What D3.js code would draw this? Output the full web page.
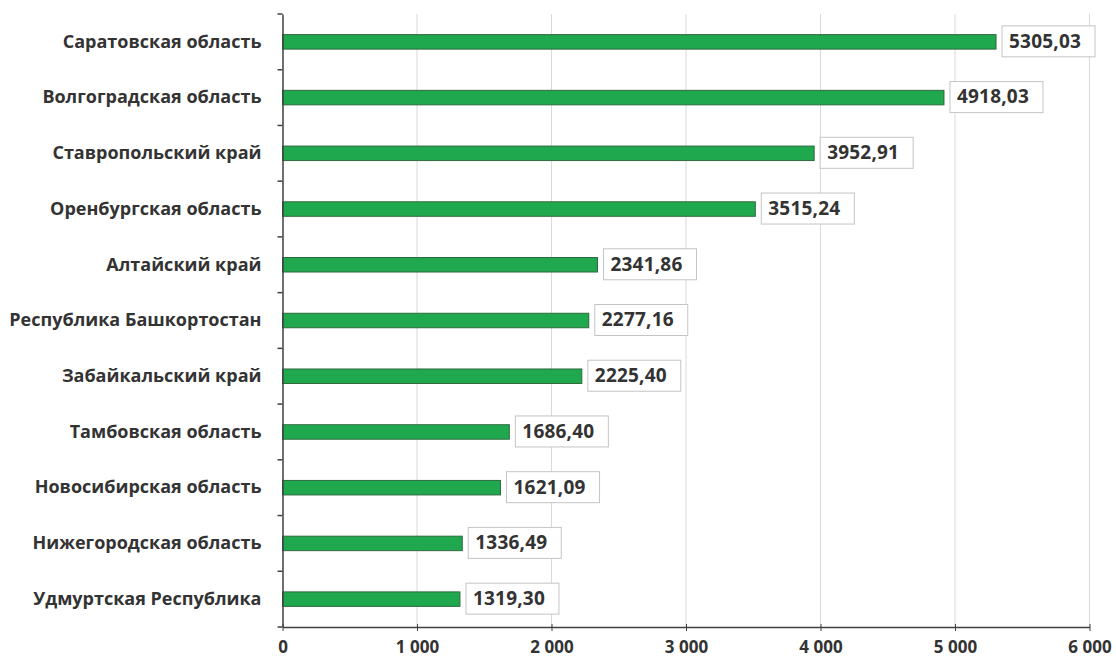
<!DOCTYPE html>
<html><head><meta charset="utf-8">
<script src="https://cdn.jsdelivr.net/npm/d3@7"></script>
<style>body{margin:0;background:#fff;} text{font-family:"Open Sans",sans-serif;font-weight:bold;fill:#333;}</style>
</head><body><svg id="c" width="1116" height="662"></svg>
<script>
const categories = ["Саратовская область","Волгоградская область","Ставропольский край","Оренбургская область","Алтайский край","Республика Башкортостан","Забайкальский край","Тамбовская область","Новосибирская область","Нижегородская область","Удмуртская Республика"];
const values = [5305.03,4918.03,3952.91,3515.24,2341.86,2277.16,2225.40,1686.40,1621.09,1336.49,1319.30];
const valueLabels = ["5305,03","4918,03","3952,91","3515,24","2341,86","2277,16","2225,40","1686,40","1621,09","1336,49","1319,30"];
const xTicks = [0,1000,2000,3000,4000,5000,6000];
const xTickLabels = ["0","1 000","2 000","3 000","4 000","5 000","6 000"];

(function(){
const svg = d3.select("#c");
const mL = 282.5, mR = 1089.5, mT = 14, mB = 627;
const x = d3.scaleLinear().domain([0,6000]).range([mL,mR]);
const y = d3.scaleBand().domain(categories).range([mT,mB]).paddingInner(0.74).paddingOuter(0.37);

svg.append("g").selectAll("line").data(xTicks.slice(1)).join("line")
  .attr("x1",d=>x(d)).attr("x2",d=>x(d)).attr("y1",mT).attr("y2",mB)
  .attr("stroke","#d9d9d9").attr("stroke-width",1);

svg.append("g").selectAll("rect").data(values).join("rect")
  .attr("x",x(0)).attr("y",(d,i)=>y(categories[i]))
  .attr("width",d=>x(d)-x(0)).attr("height",y.bandwidth())
  .attr("fill","#1fa84d").attr("stroke","#2f6a3e").attr("stroke-width",1);

const lab = svg.append("g").selectAll("g").data(values).join("g")
  .attr("transform",(d,i)=>`translate(${x(d)+6},${y(categories[i])+y.bandwidth()/2 - 1})`);
lab.append("rect").attr("x",0).attr("y",-15).attr("width",93).attr("height",31)
  .attr("fill","#fff").attr("stroke","#c4c4c4").attr("stroke-width",1);
lab.append("text").attr("x",7).attr("y",0).attr("dy","0.36em").style("font-size","19px")
  .style("letter-spacing","0.2px").text((d,i)=>valueLabels[i]);

const xa = svg.append("g").attr("transform",`translate(0,${mB})`)
  .call(d3.axisBottom(x).tickValues(xTicks).tickFormat((d,i)=>xTickLabels[i]).tickSize(4).tickSizeOuter(0));
xa.select(".domain").attr("stroke","#404040").attr("stroke-width",1.5);
xa.selectAll(".tick line").attr("stroke","#404040").attr("y1",-3);
xa.selectAll("text").style("font-size","17px").attr("y",14).attr("font-family",null).attr("fill","#333");

const ya = svg.append("g").attr("transform",`translate(${mL},0)`)
  .call(d3.axisLeft(y).tickSize(0).tickPadding(21));
ya.select(".domain").attr("stroke","#404040").attr("stroke-width",1.5);
ya.selectAll("text").style("font-size","18px").attr("font-family",null).attr("fill","#333");
const bounds = d3.range(categories.length+1).map(i=>mT + i*(mB-mT)/categories.length);
ya.append("g").selectAll("line").data(bounds).join("line")
  .attr("x1",-5).attr("x2",0).attr("y1",d=>d).attr("y2",d=>d)
  .attr("stroke","#404040").attr("stroke-width",1.5);
})();
</script></body></html>
